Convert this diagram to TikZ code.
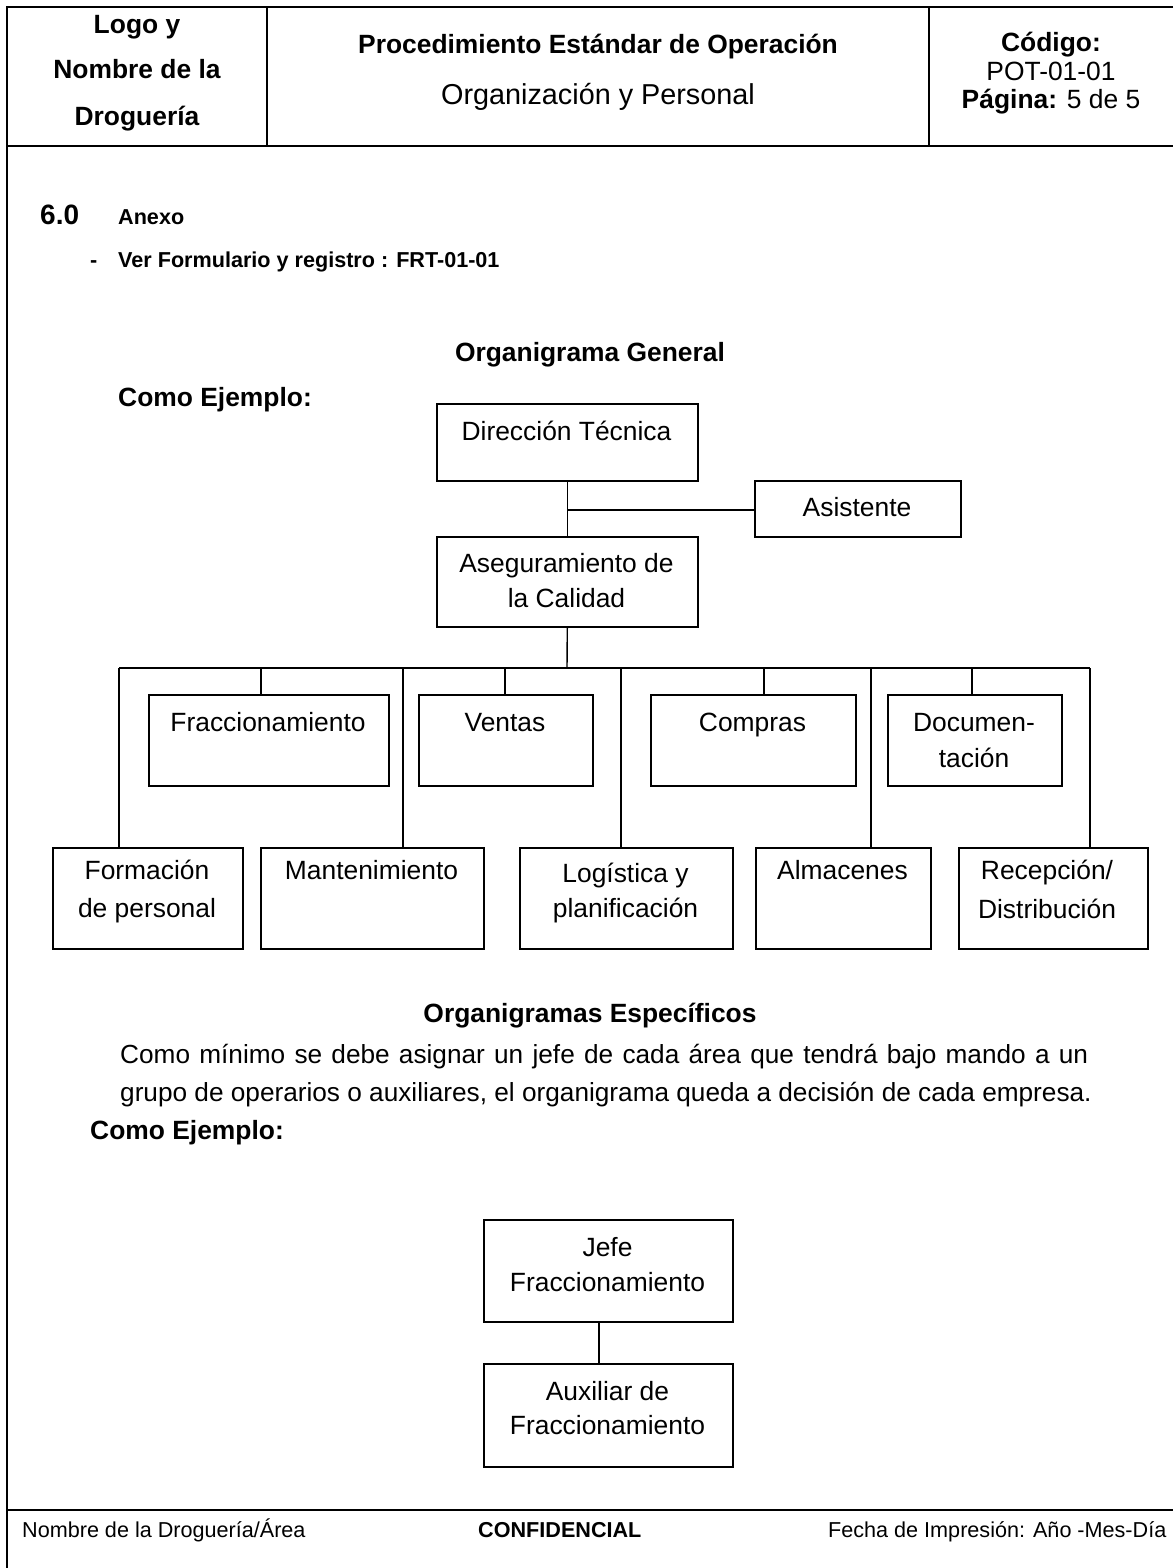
\documentclass[tikz,border=0pt]{standalone}
\usepackage{fontspec}
\setmainfont{Liberation Sans}
\newcommand\fsA{\fontsize{26.4pt}{36pt}\selectfont}
\newcommand\fsB{\fontsize{28.8pt}{36pt}\selectfont}
\newcommand\fsC{\fontsize{21.6pt}{28pt}\selectfont}
\newcommand\fsP{\fontsize{26.2pt}{36pt}\selectfont}
\tikzset{
  frame/.style={line width=2.2pt},
  conn/.style={line width=1.4pt},
  orgbox/.style={draw, line width=1.6pt, anchor=north west, inner sep=0pt},
  txt/.style={anchor=base, inner sep=0pt, font=\fsA},
  btxt/.style={anchor=base, inner sep=0pt, font=\fsA\bfseries},
}
\begin{document}
\begin{tikzpicture}[x=1pt,y=-1pt]
\useasboundingbox (0,0) rectangle (1173,1568);
% ---------- frame ----------
\coordinate (ftl) at (7,7);
\coordinate (ftr) at (1173,7);
\coordinate (fbl) at (7,1568);
\coordinate (hbl) at (7,146);
\coordinate (hbr) at (1173,146);
\coordinate (d1t) at (267,7);
\coordinate (d1b) at (267,146);
\coordinate (d2t) at (929,7);
\coordinate (d2b) at (929,146);
\coordinate (ffl) at (7,1510);
\coordinate (ffr) at (1173,1510);
\draw[frame] (ftr) -- (ftl) -- (fbl);
\draw[frame] (hbl) -- (hbr);
\draw[frame] (d1t) -- (d1b);
\draw[frame] (d2t) -- (d2b);
\draw[frame] (ffl) -- (ffr);
% ---------- header text ----------
\node[btxt] (h1) at (137,34) {Logo y};
\node[btxt] (h2) at (137,79) {Nombre de la};
\node[btxt] (h3) at (137,126) {Droguería};
\node[btxt] (h4) at (598,54) {Procedimiento Estándar de Operación};
\node[txt, font=\fsB] (h5) at (598,105) {Organización y Personal};
\node[btxt] (h6) at (1051,52) {Código:};
\node[txt] (h7) at (1051,81) {POT-01-01};
\node[txt] (h8) at (1051,109) {\textbf{Página:} 5 de 5};
% ---------- body text ----------
\node[btxt, anchor=base west, font=\fontsize{28pt}{34pt}\selectfont\bfseries] (s1) at (40,224) {6.0};
\node[btxt, anchor=base west, font=\fsC\bfseries] (s2) at (118,224) {Anexo};
\node[txt, anchor=base west, font=\fsC\bfseries] (s3) at (90,267) {-};
\node[btxt, anchor=base west, font=\fsC\bfseries] (s4) at (118,267) {Ver Formulario y registro : FRT-01-01};
\node[btxt] (t1) at (590,361) {Organigrama General};
\node[btxt, anchor=base west] (t2) at (118,406) {Como Ejemplo:};
\node[btxt] (t3) at (590,1022) {Organigramas Específicos};
\node[txt, anchor=base west, font=\fsP] (p1) at (120,1063) {\makebox[968pt][s]{Como mínimo se debe asignar un jefe de cada área que tendrá bajo mando a un}};
\node[txt, anchor=base west, font=\fsP] (p2) at (120,1101) {grupo de operarios o auxiliares, el organigrama queda a decisión de cada empresa.};
\node[btxt, anchor=base west] (t4) at (90,1139) {Como Ejemplo:};
% ---------- footer ----------
\node[txt, anchor=base west, font=\fsC] (f1) at (22,1537) {Nombre de la Droguería/Área};
\node[txt, anchor=base west, font=\fsC\bfseries] (f2) at (478,1537) {CONFIDENCIAL};
\node[txt, anchor=base west, font=\fsC] (f3) at (828,1537) {Fecha de Impresión: Año -Mes-Día};
% ---------- general chart boxes ----------
\node[orgbox, minimum width=261pt, minimum height=77pt] (dt) at (436,403) {};
\node[orgbox, minimum width=206pt, minimum height=56pt] (as) at (754,480) {};
\node[orgbox, minimum width=261pt, minimum height=90pt] (ag) at (436,536) {};
\node[orgbox, minimum width=240pt, minimum height=91pt] (fr) at (148,694) {};
\node[orgbox, minimum width=174pt, minimum height=91pt] (ve) at (418,694) {};
\node[orgbox, minimum width=205pt, minimum height=91pt] (co) at (650,694) {};
\node[orgbox, minimum width=174pt, minimum height=91pt] (dc) at (887,694) {};
\node[orgbox, minimum width=190pt, minimum height=101pt] (fo) at (52,847) {};
\node[orgbox, minimum width=223pt, minimum height=101pt] (ma) at (260,847) {};
\node[orgbox, minimum width=213pt, minimum height=101pt] (lo) at (519,847) {};
\node[orgbox, minimum width=175pt, minimum height=101pt] (al) at (755,847) {};
\node[orgbox, minimum width=189pt, minimum height=101pt] (re) at (958,847) {};
% box texts
\node[txt] (dt-t) at (566.5,440) {Dirección Técnica};
\node[txt] (as-t) at (857,516) {Asistente};
\node[txt] (ag-t1) at (566.5,572) {Aseguramiento de};
\node[txt] (ag-t2) at (566.5,607) {la Calidad};
\node[txt] (fr-t) at (268,731) {Fraccionamiento};
\node[txt] (ve-t) at (505,731) {Ventas};
\node[txt] (co-t) at (752.5,731) {Compras};
\node[txt] (dc-t1) at (974,731) {Documen-};
\node[txt] (dc-t2) at (974,767) {tación};
\node[txt] (fo-t1) at (147,879) {Formación};
\node[txt] (fo-t2) at (147,917) {de personal};
\node[txt] (ma-t) at (371.5,879) {Mantenimiento};
\node[txt] (lo-t1) at (625.5,882) {Logística y};
\node[txt] (lo-t2) at (625.5,917) {planificación};
\node[txt] (al-t) at (842.5,879) {Almacenes};
\node[txt] (re-t1) at (1047,879) {Recepción/};
\node[txt] (re-t2) at (1047,918) {Distribución};
% connectors
\coordinate (jas) at (567,510);
\coordinate (bc) at (567,668);
\coordinate (b1) at (119,668);
\coordinate (b2) at (261,668);
\coordinate (b3) at (403,668);
\coordinate (b4) at (505,668);
\coordinate (b5) at (621,668);
\coordinate (b6) at (764,668);
\coordinate (b7) at (871,668);
\coordinate (b8) at (972,668);
\coordinate (b9) at (1090,668);
\draw[conn] (dt.south) -- (ag.north);
\draw[conn] (jas) -- (jas -| as.west);
\draw[conn] (ag.south) -- (bc);
\draw[conn] (b1) -- (b9);
\draw[conn] (b1) -- (b1 |- fo.north);
\draw[conn] (b2) -- (b2 |- fr.north);
\draw[conn] (b3) -- (b3 |- ma.north);
\draw[conn] (b4) -- (b4 |- ve.north);
\draw[conn] (b5) -- (b5 |- lo.north);
\draw[conn] (b6) -- (b6 |- co.north);
\draw[conn] (b7) -- (b7 |- al.north);
\draw[conn] (b8) -- (b8 |- dc.north);
\draw[conn] (b9) -- (b9 |- re.north);
% ---------- specific chart ----------
\node[orgbox, minimum width=249pt, minimum height=102pt] (je) at (483,1219) {};
\node[orgbox, minimum width=249pt, minimum height=103pt] (ax) at (483,1363) {};
\node[txt] (je-t1) at (607.5,1256) {Jefe};
\node[txt] (je-t2) at (607.5,1291) {Fraccionamiento};
\node[txt] (ax-t1) at (607.5,1400) {Auxiliar de};
\node[txt] (ax-t2) at (607.5,1434) {Fraccionamiento};
\coordinate (jx) at (599,1321);
\draw[conn] (jx) -- (jx |- ax.north);
\end{tikzpicture}
\end{document}
